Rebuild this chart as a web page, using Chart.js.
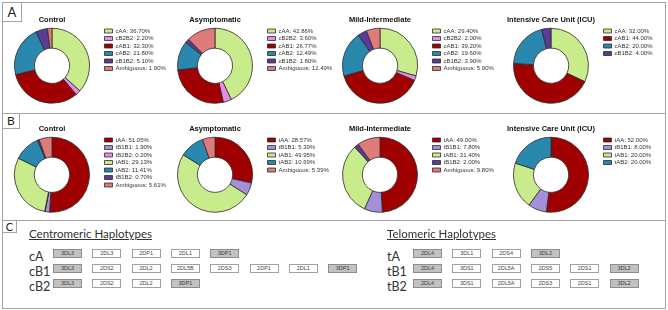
<!DOCTYPE html>
<html>
<head>
<meta charset="utf-8">
<script src="https://cdn.jsdelivr.net/npm/chart.js@4.4.1/dist/chart.umd.min.js"></script>
<style>
  html, body { margin: 0; padding: 0; width: 668px; height: 310px; overflow: hidden; background: #fff; }
  #fig { position: relative; width: 668px; height: 310px; }
  .line { position: absolute; background: #a3a3a3; }
  .tag { position: absolute; box-sizing: border-box; border: 1px solid #a3a3a3; background: #fff;
         font-family: Lato, "Open Sans", sans-serif; color: #222; text-align: center; }
  canvas.donut { position: absolute; }
  .hdr { position: absolute; font-family: Lato, "Open Sans", sans-serif; font-size: 11.5px; color: #333;
         text-decoration: underline; white-space: nowrap; }
  .rowlab { position: absolute; font-family: Lato, "Open Sans", sans-serif; font-size: 12.5px; color: #333; }
  .gene { position: absolute; box-sizing: border-box; width: 29px; height: 9px; border: 1px solid #a0a0a0;
          background: #fff; font-family: "Liberation Sans", Arial, sans-serif; font-size: 5.5px; line-height: 7px;
          text-align: center; color: #444; }
  .gene.fw { background: #c2c2c2; border-color: #8c8c8c; color: #3a3a3a; }
</style>
</head>
<body>
<div id="fig">
  <!-- marco -->
  <div class="line" style="left:2px;top:2px;width:664px;height:1px"></div>
  <div class="line" style="left:2px;top:308px;width:664px;height:1px"></div>
  <div class="line" style="left:2px;top:2px;width:1px;height:307px"></div>
  <div class="line" style="left:665px;top:2px;width:1px;height:307px"></div>
  <div class="line" style="left:2px;top:113px;width:664px;height:1px"></div>
  <div class="line" style="left:2px;top:220px;width:664px;height:1px"></div>
  <div class="tag" style="left:2px;top:2px;width:20px;height:20px;font-size:13px;line-height:18px">A</div>
  <div class="tag" style="left:2px;top:113px;width:18px;height:16px;font-size:12px;line-height:14px">B</div>
  <div class="tag" style="left:2px;top:220px;width:15px;height:13px;font-size:11px;line-height:11px">C</div>

  <canvas class="donut" id="a0"></canvas>
  <canvas class="donut" id="a1"></canvas>
  <canvas class="donut" id="a2"></canvas>
  <canvas class="donut" id="a3"></canvas>
  <canvas class="donut" id="b0"></canvas>
  <canvas class="donut" id="b1"></canvas>
  <canvas class="donut" id="b2"></canvas>
  <canvas class="donut" id="b3"></canvas>

  <div id="panelC"></div>
</div>

<script>
// grupos de pacientes
const groups = ['Control', 'Asymptomatic', 'Mild-Intermediate', 'Intensive Care Unit (ICU)'];

// Panel A: haplotipos centromericos (%)
const cenControlLabels = ['cAA', 'cB2B2', 'cAB1', 'cAB2', 'cB1B2', 'Ambiguous'];
const cenControlValues = [36.70, 2.20, 32.30, 21.80, 5.10, 1.90];
const cenAsymLabels = ['cAA', 'cB2B2', 'cAB1', 'cAB2', 'cB1B2', 'Ambiguous'];
const cenAsymValues = [42.86, 3.60, 26.77, 12.49, 1.80, 12.49];
const cenMildLabels = ['cAA', 'cB2B2', 'cAB1', 'cAB2', 'cB1B2', 'Ambiguous'];
const cenMildValues = [29.40, 2.00, 39.20, 19.60, 3.90, 5.90];
const cenIcuLabels = ['cAA', 'cAB1', 'cAB2', 'cB1B2'];
const cenIcuValues = [32.00, 44.00, 20.00, 4.00];

// Panel B: haplotipos telomericos (%)
const telControlLabels = ['tAA', 'tB1B1', 'tB2B2', 'tAB1', 'tAB2', 'tB1B2', 'Ambiguous'];
const telControlValues = [51.05, 1.90, 0.20, 29.13, 11.41, 0.70, 5.61];
const telAsymLabels = ['tAA', 'tB1B1', 'tAB1', 'tAB2', 'Ambiguous'];
const telAsymValues = [28.57, 5.39, 49.95, 10.69, 5.39];
const telMildLabels = ['tAA', 'tB1B1', 'tAB1', 'tB1B2', 'Ambiguous'];
const telMildValues = [49.00, 7.80, 31.40, 2.00, 9.80];
const telIcuLabels = ['tAA', 'tB1B1', 'tAB1', 'tAB2'];
const telIcuValues = [52.00, 8.00, 20.00, 20.00];

// Panel C: genes por haplotipo
const cA = ['3DL3', '2DL3', '2DP1', '2DL1', '3DP1'];
const cB1 = ['3DL3', '2DS2', '2DL2', '2DL5B', '2DS3', '2DP1', '2DL1', '3DP1'];
const cB2 = ['3DL3', '2DS2', '2DL2', '3DP1'];
const tA = ['2DL4', '3DL1', '2DS4', '3DL2'];
const tB1 = ['2DL4', '3DS1', '2DL5A', '2DS5', '2DS1', '3DL2'];
const tB2 = ['2DL4', '3DS1', '2DL5A', '2DS3', '2DS1', '3DL2'];
const frameworkGenes = ['3DL3', '3DP1', '2DL4', '3DL2'];

const colors = {
  cAA: '#c8ec8b', tAB1: '#c8ec8b',
  cB2B2: '#e58de6', tB2B2: '#e58de6',
  cAB1: '#a10000', tAA: '#a10000',
  cAB2: '#2a87ad', tAB2: '#2a87ad',
  cB1B2: '#5a3c94', tB1B2: '#5a3c94',
  tB1B1: '#a58fd9',
  Ambiguous: '#e07b7b'
};

const CANVAS_W = 180, CANVAS_H = 92, LEGEND_W = 78;
const centersX = [52, 215, 380, 551];

// leyenda con ancho fijo para que la dona quede siempre en el mismo lugar
const fixedLegend = {
  id: 'fixedLegend',
  beforeLayout(chart) {
    const lg = chart.legend;
    if (lg && !lg._fixedW) {
      const fit = lg.fit;
      lg.fit = function () { fit.call(this); this.width = LEGEND_W; };
      lg._fixedW = true;
    }
  }
};

function makeDonut(id, top, idx, labels, values) {
  const cv = document.getElementById(id);
  cv.width = CANVAS_W;
  cv.height = CANVAS_H;
  cv.style.left = (centersX[idx] - (CANVAS_W - LEGEND_W) / 2) + 'px';
  cv.style.top = top + 'px';
  new Chart(cv, {
    type: 'doughnut',
    data: {
      labels: labels,
      datasets: [{
        data: values,
        backgroundColor: labels.map(l => colors[l]),
        borderColor: '#2b2b2b',
        borderWidth: 0.8,
        radius: 37.5
      }]
    },
    options: {
      responsive: false,
      animation: false,
      cutout: '47%',
      layout: { padding: 0 },
      plugins: {
        title: {
          display: true,
          text: groups[idx],
          fullSize: false,
          color: '#111',
          font: { family: '"Liberation Sans", Arial, sans-serif', size: 7.5, weight: 'bold' },
          padding: { top: 2.5, bottom: 2 }
        },
        legend: {
          position: 'right',
          align: 'start',
          fullSize: false,
          labels: {
            boxWidth: 8,
            boxHeight: 4,
            padding: 1.5,
            color: '#333',
            font: { family: '"Liberation Sans", Arial, sans-serif', size: 6 },
            generateLabels(chart) {
              const items = Chart.overrides.doughnut.plugins.legend.labels.generateLabels(chart);
              const ds = chart.data.datasets[0].data;
              return items.map((it, i) => Object.assign(it, { text: it.text + ': ' + ds[i].toFixed(2) + '%' }));
            }
          }
        },
        tooltip: { enabled: false }
      }
    },
    plugins: [fixedLegend]
  });
}

makeDonut('a0', 13, 0, cenControlLabels, cenControlValues);
makeDonut('a1', 13, 1, cenAsymLabels, cenAsymValues);
makeDonut('a2', 13, 2, cenMildLabels, cenMildValues);
makeDonut('a3', 13, 3, cenIcuLabels, cenIcuValues);
makeDonut('b0', 122, 0, telControlLabels, telControlValues);
makeDonut('b1', 122, 1, telAsymLabels, telAsymValues);
makeDonut('b2', 122, 2, telMildLabels, telMildValues);
makeDonut('b3', 122, 3, telIcuLabels, telIcuValues);

// Panel C
const pc = document.getElementById('panelC');
function addEl(cls, text, x, y) {
  const d = document.createElement('div');
  d.className = cls;
  d.textContent = text;
  d.style.left = x + 'px';
  d.style.top = y + 'px';
  pc.appendChild(d);
}
function addBlock(title, x0, rows) {
  addEl('hdr', title, x0, 227);
  rows.forEach((r, ri) => {
    addEl('rowlab', r[0], x0, 249 + ri * 15);
    r[1].forEach((g, gi) => {
      const cls = frameworkGenes.includes(g) ? 'gene fw' : 'gene';
      addEl(cls, g, x0 + r[2] + gi * 39.3, 249 + ri * 15);
    });
  });
}
addBlock('Centromeric Haplotypes', 29, [['cA', cA, 24], ['cB1', cB1, 24], ['cB2', cB2, 24]]);
addBlock('Telomeric Haplotypes', 387, [['tA', tA, 26], ['tB1', tB1, 26], ['tB2', tB2, 26]]);
</script>
</body>
</html>
